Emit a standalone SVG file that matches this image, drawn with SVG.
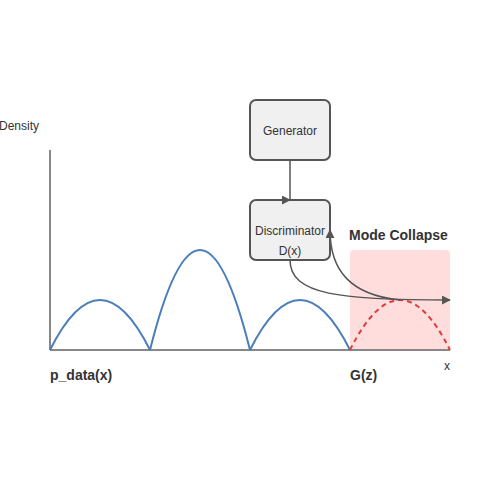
<svg xmlns="http://www.w3.org/2000/svg" width="500" height="500" viewBox="0 0 500 500">
<style>
.box{fill:#f0f0f0;stroke:#555;stroke-width:2}
.lbl{font-family:"Liberation Sans",Arial,sans-serif;font-size:12px;fill:#333;text-anchor:middle}
.bold{font-family:"Liberation Sans",Arial,sans-serif;font-size:14px;font-weight:bold;fill:#333}
.conn{fill:none;stroke:#555;stroke-width:1.5}
.axis{stroke:#888;stroke-width:2;fill:none}
.blue{fill:none;stroke:#4a7ebb;stroke-width:2}
</style>
<defs>
<marker id="arr" viewBox="0 0 10 10" refX="9" refY="5" markerWidth="6" markerHeight="6" orient="auto" markerUnits="strokeWidth"><path d="M0,0 L10,5 L0,10 z" fill="#555"/></marker>
<marker id="arrR" viewBox="0 0 10 10" refX="9" refY="5" markerWidth="6" markerHeight="6" orient="0" markerUnits="strokeWidth"><path d="M0,0 L10,5 L0,10 z" fill="#555"/></marker>
</defs>
<rect x="350" y="250" width="100" height="100" rx="4" fill="#fdd"/>
<g id="axes">
<line class="axis" x1="50" y1="150" x2="50" y2="350"/>
<line class="axis" x1="50" y1="350" x2="450" y2="350"/>
</g>
<g id="curves">
<path class="blue" d="M50,350 Q100,250 150,350"/>
<path class="blue" d="M150,350 Q200,150 250,350"/>
<path class="blue" d="M250,350 Q300,250 350,350"/>
<path d="M350,350 Q400,250 450,350" fill="none" stroke="#e03c3c" stroke-width="2" stroke-dasharray="5,4"/>
</g>
<g id="generator">
<rect class="box" x="250" y="100" width="80" height="60" rx="6"/>
<text class="lbl" x="290" y="135">Generator</text>
</g>
<g id="discriminator">
<rect class="box" x="250" y="200" width="80" height="60" rx="6"/>
<text class="lbl" x="290" y="235">Discriminator</text>
<text class="lbl" x="290" y="255">D(x)</text>
</g>
<g id="connectors">
<path class="conn" d="M290,160 L290,200" marker-end="url(#arrR)"/>
<path class="conn" d="M290,260 C290,295 340,300 450,300" marker-end="url(#arr)"/>
<path class="conn" d="M400,300 C350,295 330,270 330,230" marker-end="url(#arr)"/>
</g>
<text class="bold" x="349" y="240">Mode Collapse</text>
<text class="lbl" x="19" y="130">Density</text>
<text class="lbl" x="447" y="370">x</text>
<text class="bold" x="50" y="380">p_data(x)</text>
<text class="bold" x="350" y="380">G(z)</text>
</svg>
